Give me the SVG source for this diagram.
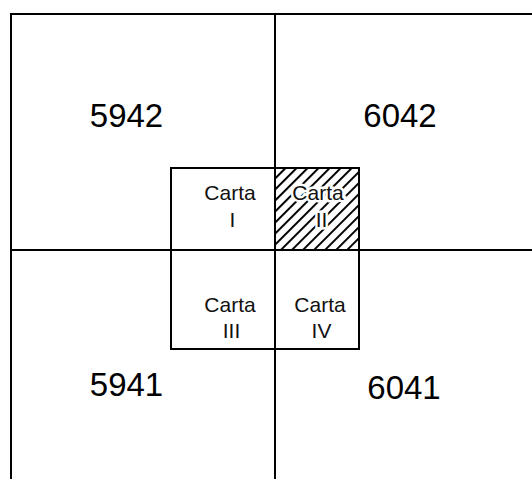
<svg xmlns="http://www.w3.org/2000/svg" width="532" height="479" viewBox="0 0 532 479">
<style>
.ln{stroke:#000;stroke-width:2;fill:none}
.big{font-family:"Liberation Sans",Arial,sans-serif;font-size:33px;fill:#000;text-anchor:middle}
.sm{font-family:"Liberation Sans",Arial,sans-serif;font-size:21px;fill:#111;text-anchor:middle}
.halo{stroke:#fff;stroke-width:5;paint-order:stroke;stroke-linejoin:miter}
</style>
<defs>
<pattern id="hatch" patternUnits="userSpaceOnUse" width="7.8" height="7.8" patternTransform="rotate(45)">
<line x1="1" y1="0" x2="1" y2="7.8" stroke="#000" stroke-width="2"/>
</pattern>
</defs>
<rect width="532" height="479" fill="#fff"/>
<g id="grid">
<line class="ln" x1="10" y1="14" x2="532" y2="14"/>
<line class="ln" x1="11" y1="13" x2="11" y2="479"/>
<line class="ln" x1="275" y1="14" x2="275" y2="479"/>
<line class="ln" x1="11" y1="250" x2="532" y2="250"/>
</g>
<g id="sheet-5942"><text class="big" x="126.5" y="127">5942</text></g>
<g id="sheet-6042"><text class="big" x="400" y="127">6042</text></g>
<g id="sheet-5941"><text class="big" x="126.5" y="396">5941</text></g>
<g id="sheet-6041"><text class="big" x="404" y="399">6041</text></g>
<g id="carta-II">
<rect x="275" y="168" width="84" height="82" fill="url(#hatch)"/>
<text class="sm halo" x="318" y="200">Carta</text>
<text class="sm halo" x="321.5" y="227">II</text>
</g>
<g id="carta-I">
<text class="sm" x="230" y="200">Carta</text>
<text class="sm" x="232.5" y="227">I</text>
</g>
<g id="carta-III">
<text class="sm" x="230" y="312">Carta</text>
<text class="sm" x="231.5" y="338">III</text>
</g>
<g id="carta-IV">
<text class="sm" x="320" y="312">Carta</text>
<text class="sm" x="321.5" y="338">IV</text>
</g>
<g id="cartas-frame">
<rect class="ln" x="171" y="168" width="188" height="181"/>
<line class="ln" x1="275" y1="168" x2="275" y2="349"/>
<line class="ln" x1="171" y1="250" x2="359" y2="250"/>
</g>
</svg>
